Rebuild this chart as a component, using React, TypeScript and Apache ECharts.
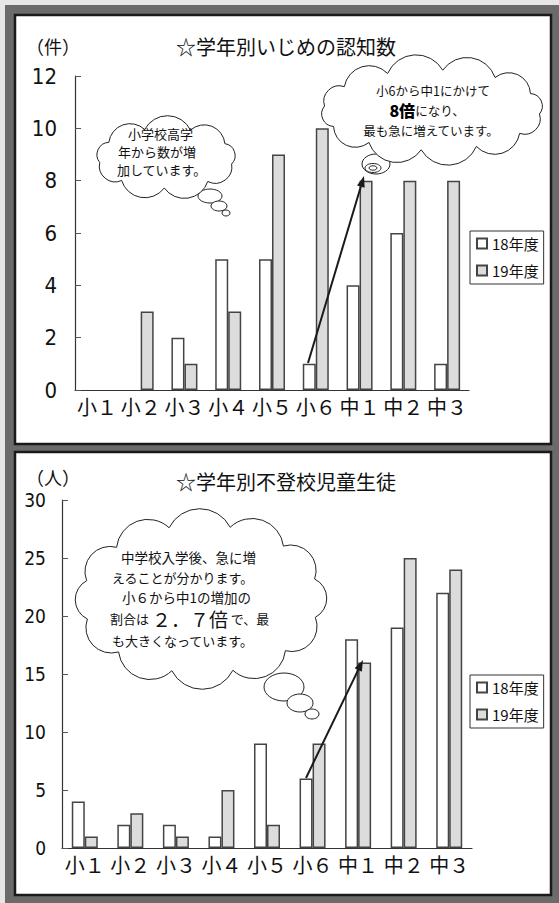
import React, { useEffect, useRef } from "react";
import * as echarts from "echarts";

const categories = ["小１", "小２", "小３", "小４", "小５", "小６", "中１", "中２", "中３"];
const seriesNames = ["18年度", "19年度"];
const bullying18 = [0, 0, 2, 5, 5, 1, 4, 6, 1];
const bullying19 = [0, 3, 1, 3, 9, 10, 8, 8, 8];
const absent18 = [4, 2, 2, 1, 9, 6, 18, 19, 22];
const absent19 = [1, 3, 1, 5, 2, 9, 16, 25, 24];
const bullyingAxis = { min: 0, max: 12, interval: 2 };
const absentAxis = { min: 0, max: 30, interval: 5 };

const JP = '"Noto Sans CJK JP", "Noto Sans", sans-serif';
const NUM = '"Liberation Sans Narrow", "DejaVu Sans Condensed", "Liberation Sans", Arial, sans-serif';

function cloudPath(cx: number, cy: number, rx: number, ry: number, n: number, phase: number, k = 0.56) {
  const pts: number[][] = [];
  for (let i = 0; i < n; i++) {
    const a = phase + (2 * Math.PI * i) / n;
    pts.push([cx + rx * Math.cos(a), cy + ry * Math.sin(a)]);
  }
  let d = `M${pts[0][0].toFixed(2)} ${pts[0][1].toFixed(2)}`;
  for (let i = 0; i < n; i++) {
    const p = pts[i];
    const q = pts[(i + 1) % n];
    const c = Math.hypot(q[0] - p[0], q[1] - p[1]);
    const r = c * k;
    d += ` A${r.toFixed(2)} ${r.toFixed(2)} 0 0 1 ${q[0].toFixed(2)} ${q[1].toFixed(2)}`;
  }
  return d + " Z";
}

let registered = false;
function registerClouds() {
  if (registered) return;
  registered = true;
  echarts.graphic.registerShape("cloudA", echarts.graphic.extendPath(cloudPath(166, 158, 67, 30, 9, 0.2), {}) as any);
  echarts.graphic.registerShape("cloudB", echarts.graphic.extendPath(cloudPath(432, 110, 108, 40, 12, 0.1), {}) as any);
  echarts.graphic.registerShape("cloudC", echarts.graphic.extendPath(cloudPath(201, 599, 118, 74, 12, 0.25), {}) as any);
}

function arrow(x1: number, y1: number, x2: number, y2: number) {
  const len = Math.hypot(x2 - x1, y2 - y1);
  const ux = (x2 - x1) / len;
  const uy = (y2 - y1) / len;
  const hl = 11;
  const hw = 4;
  const bx = x2 - ux * hl;
  const by = y2 - uy * hl;
  return [
    { type: "line", z: 20, shape: { x1, y1, x2: bx, y2: by }, style: { stroke: "#1a1a1a", lineWidth: 2 } },
    {
      type: "polygon",
      z: 20,
      shape: { points: [[x2, y2], [bx - uy * hw, by + ux * hw], [bx + uy * hw, by - ux * hw]] },
      style: { fill: "#1a1a1a" },
    },
  ];
}

function txt(x: number, y: number, text: string, fontSize: number, align = "center", extra: any = {}) {
  return {
    type: "text",
    z: 30,
    x,
    y,
    style: {
      text,
      fontSize,
      fontFamily: JP,
      fill: "#111",
      textAlign: align,
      textVerticalAlign: "middle",
      ...extra,
    },
  };
}

function ell(cx: number, cy: number, rx: number, ry: number, z = 15, fill = "#fff") {
  return { type: "ellipse", z, shape: { cx, cy, rx, ry }, style: { fill, stroke: "#222", lineWidth: 1 } };
}

function barData(values: number[]) {
  return values.map((v) => (v === 0 ? { value: v, itemStyle: { borderWidth: 0 } } : v));
}

export default function App() {
  const ref = useRef<HTMLDivElement>(null);
  useEffect(() => {
    if (!ref.current) return;
    registerClouds();
    const chart = echarts.init(ref.current, undefined, { renderer: "svg" });

    const barStyle18 = { color: "#ffffff", borderColor: "#444", borderWidth: 1.5 };
    const barStyle19 = { color: "#dcdcdc", borderColor: "#444", borderWidth: 1.5 };

    const xAxisBase = {
      type: "category",
      data: categories,
      axisLine: { lineStyle: { color: "#333", width: 1.2 } },
      axisTick: { inside: true, length: 6, lineStyle: { color: "#555" } },
      axisLabel: { interval: 0, fontSize: 20, fontFamily: JP, color: "#111", margin: 6 },
    };
    const yAxisBase = {
      type: "value",
      splitLine: { show: false },
      axisLine: { show: true, lineStyle: { color: "#333", width: 1.2 } },
      axisTick: { show: true, inside: true, length: 6, lineStyle: { color: "#555" } },
    };

    const legendBase = {
      orient: "vertical",
      icon: "rect",
      itemWidth: 10,
      itemHeight: 10,
      itemGap: 12,
      borderColor: "#333",
      borderWidth: 1,
      backgroundColor: "#fff",
      padding: [5, 5, 6, 6],
      textStyle: { fontSize: 15, fontFamily: JP, color: "#111" },
      data: seriesNames,
      selectedMode: false,
    };

    const graphic: any[] = [
      // frame
      { type: "rect", z: -1, shape: { x: 5, y: 5, width: 554, height: 898 }, style: { fill: "#6b6b6b" } },
      { type: "rect", z: -1, shape: { x: 15, y: 15, width: 536, height: 429 }, style: { fill: "#fff", stroke: "#1a1a1a", lineWidth: 2.5 } },
      { type: "rect", z: -1, shape: { x: 15, y: 452, width: 536, height: 443 }, style: { fill: "#fff", stroke: "#1a1a1a", lineWidth: 2.5 } },
      // titles
      txt(286, 46, "☆学年別いじめの認知数", 20),
      txt(53, 46, "（件）", 18),
      txt(286, 481, "☆学年別不登校児童生徒", 20),
      txt(53, 477, "（人）", 18),
      // arrows
      ...arrow(308, 363, 364, 176),
      ...arrow(306, 778, 363, 660),
      // top-left cloud
      ell(210, 196, 12, 7),
      ell(219, 206, 8, 5),
      ell(226, 213, 4, 3),
      { type: "cloudA", z: 16, style: { fill: "#fff", stroke: "#222", lineWidth: 1 } },
      txt(128, 133, "小学校高学", 13, "left"),
      txt(118, 151, "年から数が増", 13, "left"),
      txt(117, 169, "加しています。", 13, "left"),
      // top-right cloud
      ell(376, 164, 14, 10),
      ell(373, 168, 8, 4.5),
      ell(373, 168, 4, 2.2),
      { type: "cloudB", z: 16, style: { fill: "#fff", stroke: "#222", lineWidth: 1 } },
      txt(433, 90, "小6から中1にかけて", 12.5),
      {
        type: "text",
        z: 30,
        x: 427,
        y: 110,
        style: {
          text: "{b|8倍}{n|になり、}",
          textAlign: "center",
          textVerticalAlign: "middle",
          rich: {
            b: { fontSize: 16, fontWeight: 900, fontFamily: JP, fill: "#000", lineHeight: 18 },
            n: { fontSize: 12.5, fontFamily: JP, fill: "#111", lineHeight: 18 },
          },
        },
      },
      txt(431, 130, "最も急に増えています。", 12.5),
      // bottom cloud
      ell(284, 687, 20, 14),
      ell(300, 703, 13, 9),
      ell(312, 714, 7, 5),
      { type: "cloudC", z: 16, style: { fill: "#fff", stroke: "#222", lineWidth: 1 } },
      txt(121, 557, "中学校入学後、急に増", 13.5, "left"),
      txt(112, 577, "えることが分かります。", 13, "left"),
      txt(122, 597, "小６から中1の増加の", 13.5, "left"),
      {
        type: "text",
        z: 30,
        x: 110,
        y: 618,
        style: {
          text: "{n|割合は }{b|２．７倍}{n| で、最}",
          textAlign: "left",
          textVerticalAlign: "middle",
          rich: {
            b: { fontSize: 19, fontFamily: JP, fill: "#111", lineHeight: 20 },
            n: { fontSize: 13, fontFamily: JP, fill: "#111", lineHeight: 20 },
          },
        },
      },
      txt(112, 640, "も大きくなっています。", 13, "left"),
    ];

    chart.setOption({
      animation: false,
      backgroundColor: "#e6e6e6",
      grid: [
        { left: 75, top: 76, width: 394, height: 314 },
        { left: 62, top: 500, width: 410, height: 348 },
      ],
      xAxis: [
        { ...xAxisBase, gridIndex: 0 },
        { ...xAxisBase, gridIndex: 1 },
      ],
      yAxis: [
        {
          ...yAxisBase,
          gridIndex: 0,
          ...bullyingAxis,
          axisLabel: { fontSize: 22, fontFamily: NUM, color: "#111", margin: 18 },
        },
        {
          ...yAxisBase,
          gridIndex: 1,
          ...absentAxis,
          axisLabel: { fontSize: 19, fontFamily: NUM, color: "#111", margin: 16 },
        },
      ],
      legend: [
        { ...legendBase, left: 470, top: 231 },
        { ...legendBase, left: 470, top: 675 },
      ],
      series: [
        { name: seriesNames[0], type: "bar", xAxisIndex: 0, yAxisIndex: 0, data: barData(bullying18), barWidth: 13, barGap: "0%", itemStyle: barStyle18 },
        { name: seriesNames[1], type: "bar", xAxisIndex: 0, yAxisIndex: 0, data: barData(bullying19), barWidth: 13, barGap: "0%", itemStyle: barStyle19 },
        { name: seriesNames[0], type: "bar", xAxisIndex: 1, yAxisIndex: 1, data: barData(absent18), barWidth: 13, barGap: "0%", itemStyle: barStyle18 },
        { name: seriesNames[1], type: "bar", xAxisIndex: 1, yAxisIndex: 1, data: barData(absent19), barWidth: 13, barGap: "0%", itemStyle: barStyle19 },
      ],
      graphic,
    });
    return () => chart.dispose();
  }, []);
  return <div ref={ref} style={{ position: "fixed", left: 0, top: 0, width: 559, height: 903 }} />;
}
